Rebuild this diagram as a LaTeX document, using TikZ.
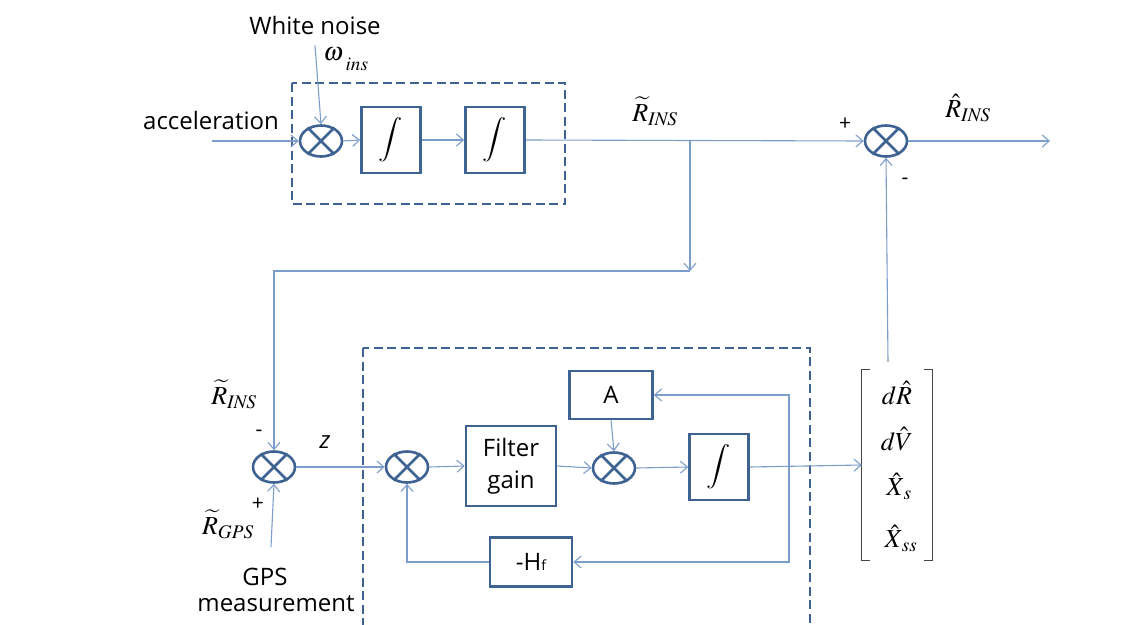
\documentclass[tikz,border=0pt]{standalone}
\usepackage{mathptmx}
\usepackage{fontspec}
\setmainfont{Open Sans}
\usetikzlibrary{arrows.meta,shapes.geometric,calc}
\definecolor{boxc}{RGB}{62,98,145}
\definecolor{linec}{RGB}{125,158,202}
\definecolor{brk}{RGB}{70,70,70}
\tikzset{
  sig/.style={draw=linec, line width=1.1pt},
  arr/.style={sig, -{Straight Barb[length=7pt,width=12pt]}},
  blk/.style={draw=boxc, line width=2.6pt, minimum width=59pt, minimum height=66pt, inner sep=0pt},
  intg/.style={blk, font=\fontsize{30}{34}\selectfont},
  sumj/.style={ellipse, draw=boxc, line width=2.6pt, minimum width=42pt, minimum height=31pt, inner sep=0pt},
  grp/.style={draw=boxc, line width=2.6pt, dash pattern=on 9pt off 4.5pt},
  txt/.style={font=\fontsize{24}{30}\selectfont, inner sep=0pt},
  mth/.style={font=\fontsize{26}{30}\selectfont, inner sep=0pt},
  sgn/.style={font=\fontsize{21}{24}\selectfont, inner sep=0pt},
}
\newcommand{\intsym}{\scalebox{0.9}[0.74]{$\displaystyle\int$}}
\begin{document}
\begin{tikzpicture}[x=1pt, y=-1pt]
\useasboundingbox (0,0) rectangle (1143,624);
\fill[white] (0,0) rectangle (1143,624);
\clip (0,0) rectangle (1143,624);

% ---------- INS integration chain ----------
\draw[grp] (292,83) rectangle (565,204);
\node[sumj] (s1) at (321,141) {};
\node[intg] (i1) at (391,140) {\intsym};
\node[intg] (i2) at (495,140) {\intsym};
\node[txt] (acc) at (211,120) {acceleration};
\node[txt] (wn) at (315,25) {White noise};
\node[mth] (om) at (346,59) {$\omega_{\;\raisebox{-6pt}{$\scriptstyle\mathit{ins}$}}$};
\coordinate (accin) at (212,141);
\coordinate (b1) at (690,141);
\coordinate (d1) at (690,271);

\node[sumj] (s2) at (886,141) {};
\coordinate (out) at (1050,141);
\node[mth] (rins) at (655,111) {$\widetilde{R}_{\mathit{INS}}$};
\node[mth] (rhat) at (968,108) {$\hat{R}_{\mathit{INS}}$};
\node[sgn] at (845,124) {+};
\node[sgn] at (905,181) {-};

\draw[arr] (accin) -- (s1.west);
\draw[arr] ([yshift=-11pt]wn.south) -- (s1.north);
\draw[arr] (s1.east) -- (i1.west);
\draw[arr] (i1.east) -- (i2.west);
\draw[arr] (i2.east) -- (s2.west);
\draw[arr] (s2.east) -- (out);
\draw[arr] (b1) -- (d1);

% ---------- GPS / INS difference ----------
\node[sumj] (s3) at (274,467) {};
\node[mth] (rins2) at (234,394) {$\widetilde{R}_{\mathit{INS}}$};
\node[mth] (rgps) at (228,524) {$\widetilde{R}_{\mathit{GPS}}$};
\node[sgn] at (259,433) {-};
\node[sgn] at (258,504) {+};
\node[txt] (zl) at (325,442) {\itshape z};
\node[txt] (gps) at (265,577) {GPS};
\node[txt] (meas) at (276,604) {measurement};
\coordinate (gpsin) at (271,547);

\draw[arr] (d1) -| (s3.north);
\draw[arr] (gpsin) -- (s3.south);

% ---------- Kalman filter ----------
\draw[grp] (363,348) rectangle (810,660);
\node[sumj] (s4) at (407,467) {};
\node[blk, minimum width=90pt, minimum height=80pt, txt, align=center,
      font=\fontsize{24}{32}\selectfont] (fg) at (511,466) {Filter\\gain};
\node[sumj] (s5) at (614,468) {};
\node[blk, minimum width=83pt, minimum height=48pt, txt] (amat) at (611,395) {A};
\node[intg] (i3) at (719,467) {\intsym};
\node[blk, minimum width=82pt, minimum height=49pt, txt] (hf) at (531,562)
      {-H{\fontsize{14}{16}\selectfont f}};
\coordinate (br) at (789,467);

\draw[arr] (s3.east) -- (s4.west);
\draw[arr] (s4.east) -- (fg.west);
\draw[arr] (fg.east) -- (s5.west);
\draw[arr] (amat.south) -- (s5.north);
\draw[arr] (s5.east) -- (i3.west);
\draw[arr] (br) |- (amat.east);
\draw[arr] (br) |- (hf.east);
\draw[arr] (hf.west) -| (s4.south);

% crosses inside the summing junctions
\foreach \s in {s1,s2,s3,s4,s5}
  \draw[boxc, line width=2.6pt] (\s.45) -- (\s.225) (\s.135) -- (\s.315);

% ---------- estimated error state vector ----------
\node[minimum width=70pt, minimum height=190pt, inner sep=0pt] (vec) at (897,465) {};
\draw[brk, line width=1.1pt]
  ($(vec.north west)+(8,0)$) -- (vec.north west) -- (vec.south west) -- ($(vec.south west)+(8,0)$)
  ($(vec.north east)+(-8,0)$) -- (vec.north east) -- (vec.south east) -- ($(vec.south east)+(-8,0)$);
\node[mth] at (897,393) {$d\hat{R}$};
\node[mth] at (897,439) {$d\hat{V}$};
\node[mth] at (899,486) {$\hat{X}_{\,s}$};
\node[mth] at (901,538) {$\hat{X}_{\,\mathit{ss}}$};

\draw[arr] (i3.east) -- (vec.west);
\draw[arr] ($(vec.north)+(-9,-8)$) -- (s2.south);
\end{tikzpicture}
\end{document}
